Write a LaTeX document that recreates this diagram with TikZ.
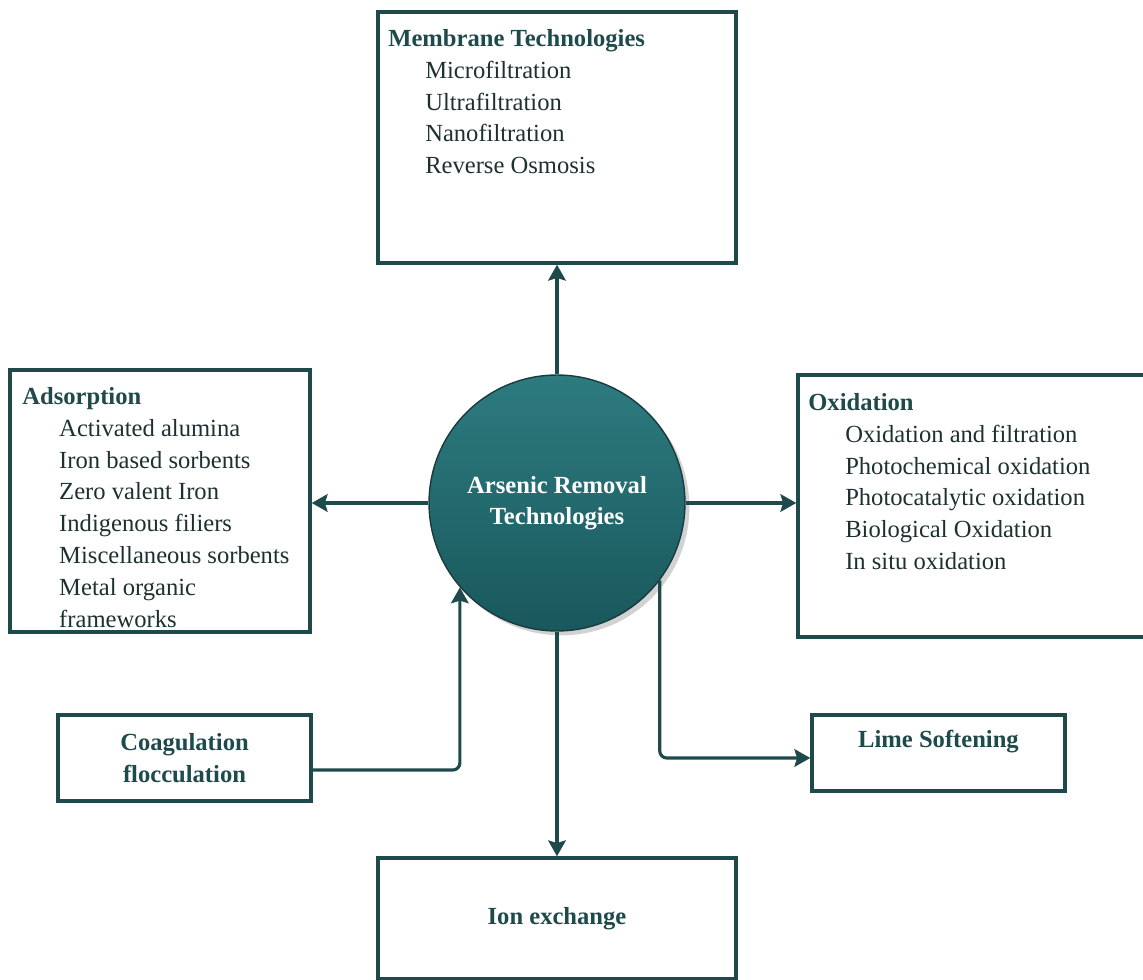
\documentclass[tikz,border=0pt]{standalone}
\usepackage{fontspec}
\setmainfont{Liberation Serif}
\usetikzlibrary{arrows.meta,shadows}
\definecolor{tealline}{HTML}{1F4A4C}
\definecolor{tealtop}{HTML}{2D7B7F}
\definecolor{tealbot}{HTML}{19585C}
\definecolor{textdark}{HTML}{1E3030}
\newcommand{\itm}{\hspace*{21pt}}
\tikzset{
  box/.style={draw=tealline,line width=2pt,inner sep=0pt},
  arr/.style={draw=tealline,line width=1.8pt,rounded corners=4pt,
    -{Stealth[length=9pt,width=10pt,inset=1.5pt]}},
  lst/.style={anchor=north west,align=left,inner sep=0pt,text=textdark},
  ttl/.style={font=\fontsize{14}{18.1}\selectfont\bfseries,text=tealline,align=center}
}
\begin{document}
\begin{tikzpicture}[x=0.02cm,y=-0.02cm,every node/.style={font=\fontsize{14}{18.1}\selectfont}]
        \useasboundingbox (0,0) rectangle (1143,980);
        % boxes
        \begin{scope}[every node/.style={box}]
        \node[minimum width=7.16cm,minimum height=5.02cm] (memb) at (557,137.5) {};
        \node[minimum width=6cm,minimum height=5.24cm] (adsor) at (160,501) {};
        \node[minimum width=7.24cm,minimum height=5.24cm] (oxid) at (979,506) {};
        \node[minimum width=5.06cm,minimum height=1.72cm,ttl] (coag) at (184.5,758) {Coagulation\\flocculation};
        \node[minimum width=5.06cm,minimum height=1.52cm] (lime) at (938.5,753) {};
        \node[minimum width=7.16cm,minimum height=2.42cm,ttl] (ion) at (557,918.5) {Ion exchange};
        \end{scope}
        % texts
        \node[lst] (membtxt) at (388,29) {\textbf{\color{tealline}Membrane Technologies}\\
          \itm Microfiltration\\\itm Ultrafiltration\\\itm Nanofiltration\\\itm Reverse Osmosis};
        \node[lst] (adsortxt) at (22,387) {\textbf{\color{tealline}Adsorption}\\
          \itm Activated alumina\\\itm Iron based sorbents\\\itm Zero valent Iron\\
          \itm Indigenous filiers\\\itm Miscellaneous sorbents\\\itm Metal organic\\\itm frameworks};
        \node[lst] (oxidtxt) at (808,393) {\textbf{\color{tealline}Oxidation}\\
          \itm Oxidation and filtration\\\itm Photochemical oxidation\\\itm Photocatalytic oxidation\\
          \itm Biological Oxidation\\\itm In situ oxidation};
        \node[ttl] (limetxt) at (938.5,742) {Lime Softening};
        % centre
        \node[circle,minimum size=5.12cm,draw=tealline!80!black,line width=0.8pt,
          top color=tealtop,bottom color=tealbot,
          drop shadow={shadow xshift=2.5pt,shadow yshift=-2.5pt,fill=black!35},
          text=white,align=center,font=\fontsize{14}{17.6}\selectfont\bfseries] (core) at (557,503)
          {Arsenic Removal\\Technologies};
        % connectors
        \draw[arr] (core) -- (memb);
        \draw[arr] (core.west) -- (core.west -| adsor.east);
        \draw[arr] (core.east) -- (core.east -| oxid.west);
        \draw[arr] (core) -- (ion);
        \draw[arr] ([yshift=-0.24cm]coag.east) -| (core.221.4);
        \draw[arr] (core.-37.9) |- ([yshift=-0.1cm]lime.west);
\end{tikzpicture}
\end{document}
